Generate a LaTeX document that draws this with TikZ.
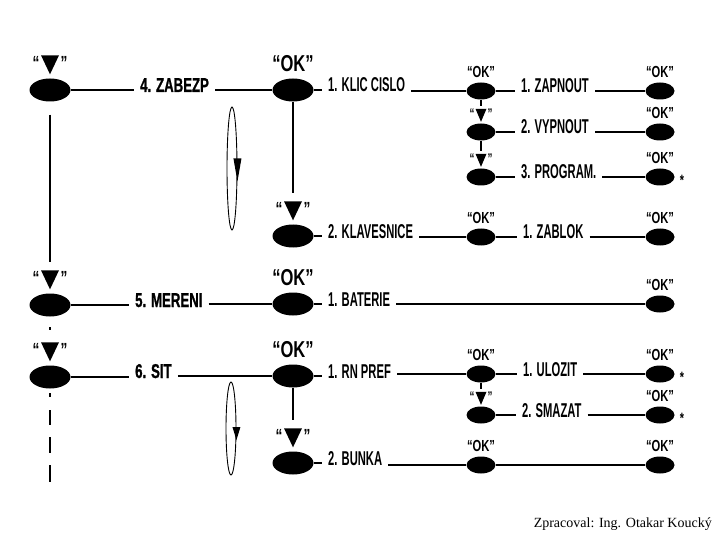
\documentclass[tikz,border=0pt]{standalone}
\usepackage{fontspec}
\usetikzlibrary{shapes.geometric}
\newfontfamily\regf[FakeStretch=0.56]{Liberation Sans Bold}
\newfontfamily\boldf[FakeStretch=0.66,FakeBold=1]{Liberation Sans Bold}
\newfontfamily\okf[FakeStretch=0.72]{Liberation Sans Bold}
\newfontfamily\okfs[FakeStretch=0.7]{Liberation Sans Bold}
\newfontfamily\serf{Liberation Serif}
\newcommand{\bigtri}{\tikz[baseline=-14pt]\fill (0,0) -- (18pt,0) -- (9pt,-19pt) -- cycle;}
\newcommand{\smalltri}{\tikz[baseline=-9.5pt]\fill (0,0) -- (11pt,0) -- (5.5pt,-13pt) -- cycle;}
\tikzset{
  bigE/.style={ellipse, fill=black, minimum width=41pt, minimum height=23pt, inner sep=0pt},
  smE/.style={ellipse, fill=black, minimum width=29pt, minimum height=17pt, inner sep=0pt},
  lblR/.style={font=\regf\fontsize{20}{22}\selectfont, inner xsep=6pt, inner ysep=0pt, anchor=base west},
  lblB/.style={font=\boldf\fontsize{20}{22}\selectfont, inner xsep=6pt, inner ysep=0pt, anchor=base west},
  okBig/.style={font=\okf\fontsize{23}{24}\selectfont, inner sep=0pt, anchor=base},
  okSm/.style={font=\okfs\fontsize{16}{17}\selectfont, inner sep=0pt, anchor=base},
  triBig/.style={inner xsep=0pt, inner ysep=8pt, anchor=base, font=\okf\fontsize{19}{20}\selectfont},
  triSm/.style={inner xsep=0pt, inner ysep=2pt, anchor=base, font=\okfs\fontsize{14}{15}\selectfont},
  ast/.style={font=\okf\fontsize{15}{15}\selectfont, inner sep=0pt},
  ln/.style={line width=1.1pt},
  loopE/.style={draw, ellipse, line width=0.9pt, inner sep=0pt},
}
\newcommand{\tbig}{“\hspace{1.5pt}\bigtri\hspace{1.5pt}”}
\newcommand{\tsm}{“\hspace{1pt}\smalltri\hspace{1pt}”}
\begin{document}
\begin{tikzpicture}[x=1pt,y=-1pt]
\useasboundingbox (0,0) rectangle (720,540);

% ---------- Row A : 4. ZABEZP ----------
\node[bigE] (a1) at (50,90) {};
\node[triBig] (ta1) at ([yshift=9pt]a1.north) {\tbig};
\node[lblB] (zab) at (134,92) {4. ZABEZP};
\node[bigE] (a2) at (293,90) {};
\node[okBig] (oa2) at ([yshift=7pt]a2.north) {“OK”};
\node[lblR] (klic) at (322,92) {1. KLIC CISLO};
\node[smE] (a3) at (481,91) {};
\node[okSm] (oa3) at ([yshift=4.5pt]a3.north) {“OK”};
\node[lblR] (zap) at (515,93) {1. ZAPNOUT};
\node[smE] (a4) at (660,91) {};
\node[okSm] (oa4) at ([yshift=4.5pt]a4.north) {“OK”};
\draw[ln] (a1.east) -- (a1.east -| zab.west);
\draw[ln] (zab.east |- a2.west) -- (a2.west);
\draw[ln] (a2.east) -- (a2.east -| klic.west);
\draw[ln] (klic.east |- a3.west) -- (a3.west);
\draw[ln] (a3.east) -- (a3.east -| zap.west);
\draw[ln] (zap.east |- a4.west) -- (a4.west);

% ---------- 2. VYPNOUT ----------
\node[smE] (b3) at (481,132) {};
\node[triSm] (tb3) at ([yshift=5pt]b3.north) {\tsm};
\node[lblR] (vyp) at (515,133.5) {2. VYPNOUT};
\node[smE] (b4) at (660,132) {};
\node[okSm] (ob4) at ([yshift=4.5pt]b4.north) {“OK”};
\draw[ln] (a3.south) -- (tb3.north);
\draw[ln] (b3.east) -- (b3.east -| vyp.west);
\draw[ln] (vyp.east |- b4.west) -- (b4.west);

% ---------- 3. PROGRAM. ----------
\node[smE] (c3) at (481,177) {};
\node[triSm] (tc3) at ([yshift=5pt]c3.north) {\tsm};
\node[lblR] (prog) at (515,178.5) {3. PROGRAM.};
\node[smE] (c4) at (660,177) {};
\node[okSm] (oc4) at ([yshift=4.5pt]c4.north) {“OK”};
\node[ast] (ast1) at (682,180) {*};
\draw[ln] (b3.south) -- (tc3.north);
\draw[ln] (c3.east) -- (c3.east -| prog.west);
\draw[ln] (prog.east |- c4.west) -- (c4.west);

% ---------- 2. KLAVESNICE ----------
\node[bigE] (k2) at (293,236) {};
\node[triBig] (tk2) at ([yshift=9pt]k2.north) {\tbig};
\node[lblR] (klav) at (322,238) {2. KLAVESNICE};
\node[smE] (k3) at (481,237) {};
\node[okSm] (ok3) at ([yshift=4.5pt]k3.north) {“OK”};
\node[lblR] (zabl) at (517,239) {1. ZABLOK};
\node[smE] (k4) at (660,237) {};
\node[okSm] (ok4) at ([yshift=4.5pt]k4.north) {“OK”};
\draw[ln] (a2.south) -- (tk2.north);
\draw[ln] (k2.east) -- (k2.east -| klav.west);
\draw[ln] (klav.east |- k3.west) -- (k3.west);
\draw[ln] (k3.east) -- (k3.east -| zabl.west);
\draw[ln] (zabl.east |- k4.west) -- (k4.west);

% loop symbol 1
\node[loopE, minimum width=10pt, minimum height=123pt] (loop1) at (232,168.5) {};
\fill ([shift={(-4,-10)}]loop1.east) -- ++(8,0) -- ++(-4,23) -- cycle;

% ---------- Row C : 5. MERENI ----------
\node[bigE] (m1) at (50,305) {};
\node[triBig] (tm1) at ([yshift=9pt]m1.north) {\tbig};
\node[lblB] (mer) at (129,307) {5. MERENI};
\node[bigE] (m2) at (293,304) {};
\node[okBig] (om2) at ([yshift=7pt]m2.north) {“OK”};
\node[lblR] (bat) at (322,306) {1. BATERIE};
\node[smE] (m4) at (660,304) {};
\node[okSm] (om4) at ([yshift=4.5pt]m4.north) {“OK”};
\draw[ln] ([yshift=-13pt]a1.south) -- (tm1.north);
\draw[ln] (m1.east) -- (m1.east -| mer.west);
\draw[ln] (mer.east |- m2.west) -- (m2.west);
\draw[ln] (m2.east) -- (m2.east -| bat.west);
\draw[ln] (bat.east |- m4.west) -- (m4.west);

% ---------- Row D : 6. SIT ----------
\node[bigE] (s1) at (50,377) {};
\node[triBig] (ts1) at ([yshift=9pt]s1.north) {\tbig};
\node[lblB] (sit) at (129,378) {6. SIT};
\node[bigE] (s2) at (293,376) {};
\node[okBig] (os2) at ([yshift=7pt]s2.north) {“OK”};
\node[lblR] (rn) at (322,378) {1. RN PREF};
\node[smE] (s3) at (481,374) {};
\node[okSm] (os3) at ([yshift=4.5pt]s3.north) {“OK”};
\node[lblR] (ulo) at (517,376) {1. ULOZIT};
\node[smE] (s4) at (660,374) {};
\node[okSm] (os4) at ([yshift=4.5pt]s4.north) {“OK”};
\node[ast] (ast2) at (682,377) {*};
\draw[ln, dash pattern=on 0pt off 10.5pt on 3pt off 40pt] (m1.south) -- (ts1.north);
\draw[ln] (s1.east) -- (s1.east -| sit.west);
\draw[ln] (sit.east |- s2.west) -- (s2.west);
\draw[ln] (s2.east) -- (s2.east -| rn.west);
\draw[ln] (rn.east |- s3.west) -- (s3.west);
\draw[ln] (s3.east) -- (s3.east -| ulo.west);
\draw[ln] (ulo.east |- s4.west) -- (s4.west);
\coordinate (dend) at (50,482);
\draw[ln, dash pattern=on 4pt off 13pt on 15pt off 12pt on 16pt off 12pt on 17pt off 40pt] ([yshift=-4.5pt]s1.south) -- (dend);

% ---------- 2. SMAZAT ----------
\node[smE] (z3) at (481,415) {};
\node[triSm] (tz3) at ([yshift=5pt]z3.north) {\tsm};
\node[lblR] (sma) at (516,417) {2. SMAZAT};
\node[smE] (z4) at (660,415) {};
\node[okSm] (oz4) at ([yshift=4.5pt]z4.north) {“OK”};
\node[ast] (ast3) at (682,418) {*};
\draw[ln] (s3.south) -- (tz3.north);
\draw[ln] (z3.east) -- (z3.east -| sma.west);
\draw[ln] (sma.east |- z4.west) -- (z4.west);

% ---------- Row E : 2. BUNKA ----------
\node[bigE] (u2) at (293,463) {};
\node[triBig] (tu2) at ([yshift=9pt]u2.north) {\tbig};
\node[lblR] (bun) at (322,465) {2. BUNKA};
\node[smE] (u3) at (481,465) {};
\node[okSm] (ou3) at ([yshift=4.5pt]u3.north) {“OK”};
\node[smE] (u4) at (660,465) {};
\node[okSm] (ou4) at ([yshift=4.5pt]u4.north) {“OK”};
\draw[ln] (s2.south) -- (tu2.north);
\draw[ln] (u2.east) -- (u2.east -| bun.west);
\draw[ln] (bun.east |- u3.west) -- (u3.west);
\draw[ln] (u3.east) -- (u4.west);

% loop symbol 2
\node[loopE, minimum width=10pt, minimum height=93pt] (loop2) at (231,428.5) {};
\fill ([shift={(-4,-1.5)}]loop2.east) -- ++(8,0) -- ++(-4,13) -- cycle;

% footer
\node[font=\serf\fontsize{14}{16}\selectfont, anchor=base east, inner sep=0pt] (foot) at (712,527) {Zpracoval: Ing. Otakar Koucký};
\end{tikzpicture}
\end{document}
